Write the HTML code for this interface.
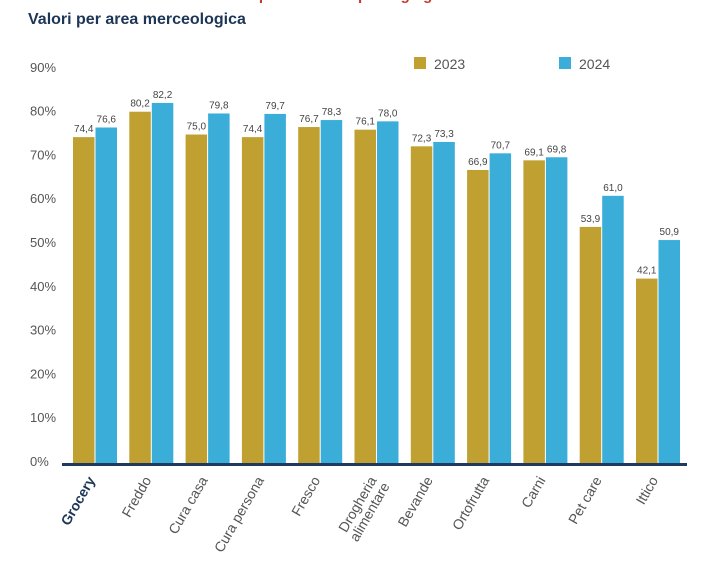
<!DOCTYPE html>
<html><head><meta charset="utf-8"><style>
body{margin:0;background:#fff;width:701px;height:566px;overflow:hidden;font-family:"Liberation Sans",sans-serif}
svg text{font-family:"Liberation Sans",sans-serif}
</style></head><body>
<svg id="c" width="701" height="566">
<text x="28" y="0" fill="#c8372d" font-size="15" font-weight="bold">Il contributo dei materiali di composizione del packaging</text>
<text x="28" y="24" fill="#1d3557" font-size="16" font-weight="bold">Valori per area merceologica</text>
<rect x="414" y="57" width="12" height="12" fill="#bfa030"/>
<text x="434" y="69" fill="#555" font-size="14">2023</text>
<rect x="559" y="57" width="12" height="12" fill="#3aaed8"/>
<text x="579" y="69" fill="#555" font-size="14">2024</text>
</svg>
<script>
const categories=["Grocery","Freddo","Cura casa","Cura persona","Fresco","Drogheria\nalimentare","Bevande","Ortofrutta","Carni","Pet care","Ittico"];
const values2023=[74.4,80.2,75.0,74.4,76.7,76.1,72.3,66.9,69.1,53.9,42.1];
const values2024=[76.6,82.2,79.8,79.7,78.3,78.0,73.3,70.7,69.8,61.0,50.9];
const ticks=[0,10,20,30,40,50,60,70,80,90];
const svg=document.getElementById('c');const NS="http://www.w3.org/2000/svg";
const y=v=>463-v*4.38;const x0=73,pitch=56.3,bw=21.5;
function mk(t,a){const e=document.createElementNS(NS,t);for(const k in a)e.setAttribute(k,a[k]);svg.appendChild(e);return e;}
ticks.forEach(t=>{const e=mk('text',{x:30,y:y(t)+3,'font-size':13,fill:'#555'});e.textContent=t+'%';

});
const fmt=v=>v.toFixed(1).replace('.',',');
categories.forEach((c,i)=>{const gx=x0+i*pitch;
[[values2023[i],gx,'#bfa030','bar-2023'],[values2024[i],gx+bw+1,'#3aaed8','bar-2024']].forEach(([v,bx,col,n])=>{
const r=mk('rect',{x:bx,y:y(v),width:bw,height:463-y(v)+1,fill:col});


const t=mk('text',{x:bx+bw/2,y:y(v)-5,'font-size':10,fill:'#444','text-anchor':'middle'});t.textContent=fmt(v);

});
const cx=gx+bw+1;const lines=c.split('\n');
lines.forEach((ln,j)=>{const t=mk('text',{'font-size':14,fill:i==0?'#1d3557':'#555','font-weight':i==0?'bold':'normal','text-anchor':'end',transform:`translate(${cx+j*13},${480+j*6}) rotate(-60)`});t.textContent=ln;

});});
const ax=mk('rect',{x:62,y:463,width:625,height:3,fill:'#1f3a5f'});


</script>
</body></html>
